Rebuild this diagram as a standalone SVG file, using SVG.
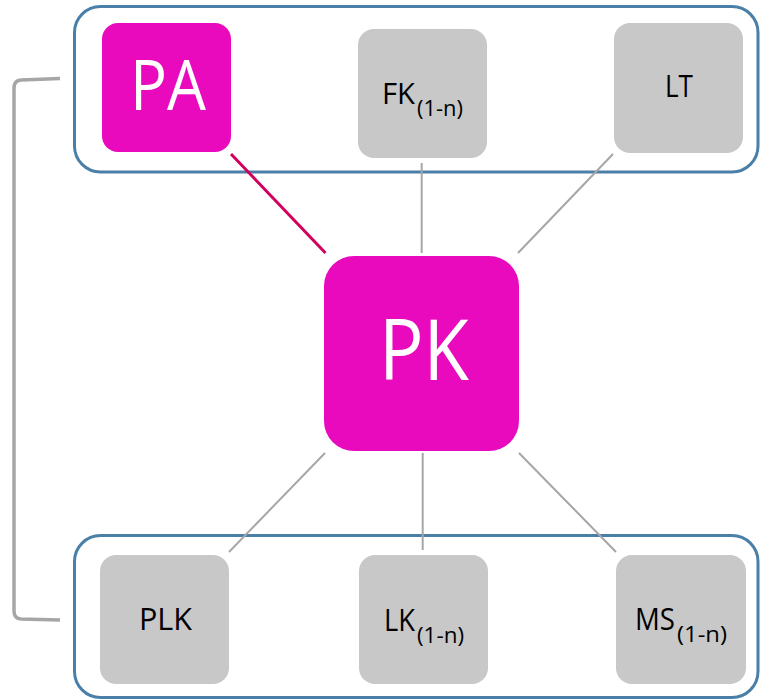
<svg xmlns="http://www.w3.org/2000/svg" width="761" height="700" viewBox="0 0 761 700">
  <style>
    .group { fill: none; stroke: #4A7FA7; stroke-width: 3; }
    .hub { fill: #EA0ABE; }
    .leaf { fill: #C8C8C8; }
    .lbl { font-family: "Open Sans", "Liberation Sans", sans-serif; fill: #000; }
    .big { font-family: "Open Sans", "Liberation Sans", sans-serif; fill: #FFF; }
    .link { stroke: #A6A6A6; stroke-width: 2; fill: none; }
    .link-hot { stroke: #D1005D; stroke-width: 3; fill: none; }
    .bracket { stroke: #A6A6A6; stroke-width: 3.5; fill: none; }
  </style>

  <rect width="761" height="700" fill="#FFFFFF"/>

  <!-- group frames -->
  <g id="group-top">
    <rect class="group" x="74.5" y="6.5" width="683.5" height="165.5" rx="26" ry="26"/>
  </g>
  <g id="group-bottom">
    <rect class="group" x="74.5" y="535.5" width="683.5" height="162" rx="26" ry="26"/>
  </g>

  <!-- bracket spanning both groups -->
  <g id="bracket">
    <path class="bracket" d="M60,78.5 L21,80 Q14,80.5 14,88 L14,611 Q14,618.5 21,619 L60,620"/>
  </g>

  <!-- connectors -->
  <g id="connectors">
    <line class="link-hot" x1="231" y1="154" x2="325.5" y2="253"/>
    <line class="link" x1="421.7" y1="163" x2="421.7" y2="253"/>
    <line class="link" x1="613" y1="154" x2="518" y2="253"/>
    <line class="link" x1="325" y1="453" x2="229" y2="552"/>
    <line class="link" x1="422.7" y1="453" x2="422.7" y2="550"/>
    <line class="link" x1="519" y1="453" x2="616" y2="552"/>
  </g>

  <!-- nodes -->
  <g id="node-pa">
    <rect class="hub" x="102" y="23" width="129" height="129" rx="16" ry="16"/>
    <text class="big" x="130" y="110" font-size="70" textLength="76" lengthAdjust="spacingAndGlyphs">PA</text>
  </g>

  <g id="node-fk">
    <rect class="leaf" x="358" y="29" width="129" height="129" rx="16" ry="16"/>
    <text class="lbl" font-size="30"><tspan x="382" y="104" textLength="33" lengthAdjust="spacingAndGlyphs">FK</tspan><tspan x="417" y="116" font-size="21" textLength="46" lengthAdjust="spacingAndGlyphs">(1-n)</tspan></text>
  </g>

  <g id="node-lt">
    <rect class="leaf" x="614" y="23" width="129" height="130" rx="16" ry="16"/>
    <text class="lbl" x="665" y="97" font-size="31" textLength="28" lengthAdjust="spacingAndGlyphs">LT</text>
  </g>

  <g id="node-pk">
    <rect class="hub" x="324" y="256" width="195" height="195" rx="30" ry="30"/>
    <text class="big" x="379" y="380" font-size="84" textLength="90" lengthAdjust="spacingAndGlyphs">PK</text>
  </g>

  <g id="node-plk">
    <rect class="leaf" x="100" y="555" width="129" height="129" rx="16" ry="16"/>
    <text class="lbl" x="139" y="630" font-size="31" textLength="53" lengthAdjust="spacingAndGlyphs">PLK</text>
  </g>

  <g id="node-lk">
    <rect class="leaf" x="359" y="555" width="129" height="129" rx="16" ry="16"/>
    <text class="lbl" font-size="31"><tspan x="384" y="631" textLength="31" lengthAdjust="spacingAndGlyphs">LK</tspan><tspan x="417" y="643" font-size="21" textLength="47" lengthAdjust="spacingAndGlyphs">(1-n)</tspan></text>
  </g>

  <g id="node-ms">
    <rect class="leaf" x="616" y="555" width="130" height="129" rx="16" ry="16"/>
    <text class="lbl" font-size="31"><tspan x="635" y="630" textLength="40" lengthAdjust="spacingAndGlyphs">MS</tspan><tspan x="677" y="642" font-size="21" textLength="50" lengthAdjust="spacingAndGlyphs">(1-n)</tspan></text>
  </g>
</svg>
